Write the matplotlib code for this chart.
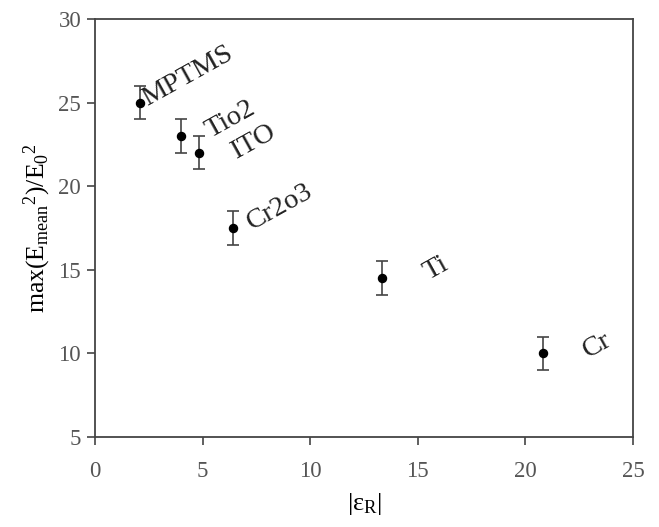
import matplotlib
matplotlib.use('Agg')
import matplotlib.pyplot as plt

plt.rcParams['font.family'] = ['Liberation Serif', 'DejaVu Serif']
plt.rcParams['mathtext.fontset'] = 'custom'
plt.rcParams['mathtext.rm'] = 'Liberation Serif'
plt.rcParams['mathtext.it'] = 'Liberation Serif:italic'

# data
materials = ['MPTMS', 'Tio2', 'ITO', 'Cr2o3', 'Ti', 'Cr']
eps_r = [2.1, 4.0, 4.85, 6.4, 13.35, 20.8]
field_max = [25.0, 23.0, 22.0, 17.5, 14.5, 10.0]
err = [1.0, 1.0, 1.0, 1.0, 1.0, 1.0]
# label offsets in pixels from each point
offsets = [(7, -3), (29, -2), (37, -6), (19, -2), (46, -2), (45, -5)]

fig = plt.figure(figsize=(6.59, 5.27), dpi=100)
ax = fig.add_axes([0.1442, 0.1708, 0.8163, 0.7931])

ax.errorbar(eps_r, field_max, yerr=err, fmt='o', color='black', ms=5.8,
            ecolor='#444444', elinewidth=1.2, capsize=4, capthick=1.2)

for name, x, y, off in zip(materials, eps_r, field_max, offsets):
    ax.annotate(name, (x, y), xytext=(off[0] * 0.72, off[1] * 0.72),
                textcoords='offset points', fontsize=20.5, rotation=29,
                rotation_mode='anchor', ha='left', va='baseline', color='#222222')

ax.set_xlim(0, 25)
ax.set_ylim(5, 30)
ax.set_xticks([0, 5, 10, 15, 20, 25])
ax.set_yticks([5, 10, 15, 20, 25, 30])

for s in ax.spines.values():
    s.set_color('#444444')
    s.set_linewidth(1.3)

ax.tick_params(direction='out', length=6, width=1.2, color='#444444',
               labelsize=16.5, labelcolor='#555555')
ax.tick_params(axis='x', pad=11)
ax.tick_params(axis='y', pad=4)

ax.set_xlabel('|ε$_\\mathrm{R}$|', fontsize=19, labelpad=7)
ax.set_ylabel('max(E$_\\mathrm{mean}$$^{2}$)/E$_{0}$$^{2}$', fontsize=18.5, labelpad=4)

fig.savefig('out.png', dpi=100)
